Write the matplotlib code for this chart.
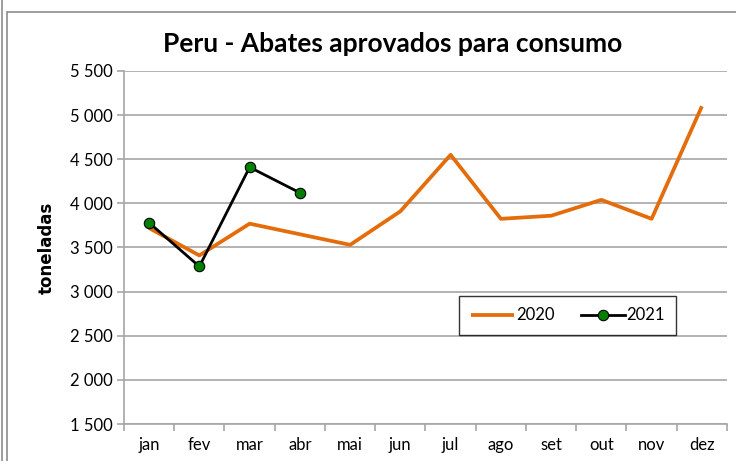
import numpy as np
import matplotlib.pyplot as plt
from matplotlib.patches import Rectangle
from matplotlib.lines import Line2D

months = ["jan", "fev", "mar", "abr", "mai", "jun", "jul", "ago", "set", "out", "nov", "dez"]
vals_2020 = [3720, 3410, 3770, 3650, 3530, 3910, 4550, 3825, 3860, 4040, 3825, 5100]
vals_2021 = [3780, 3285, 4410, 4120]
yticks = [1500, 2000, 2500, 3000, 3500, 4000, 4500, 5000, 5500]

orange = "#E46C0A"
grid_c = "#A6A6A6"

fig = plt.figure(figsize=(7.36, 4.61), dpi=100)
W, H = 736, 461

# outer chart frame (cropped picture)
fig.patches.append(Rectangle((7 / W, -0.1), 1.2, 1 - 12 / H + 0.1, transform=fig.transFigure,
                             fill=False, edgecolor="#8C8C8C", linewidth=1.2))
fig.lines.append(Line2D([1.5 / W, 1.5 / W], [0, 1], transform=fig.transFigure,
                        color="#8C8C8C", linewidth=1.2))

ax = fig.add_axes([124 / W, 1 - 424 / H, (727 - 124) / W, (424 - 71) / H])

x = np.arange(len(months))
ax.plot(x, vals_2020, color=orange, linewidth=2.7, label="2020", solid_capstyle="butt", zorder=3)
ax.plot(x[:len(vals_2021)], vals_2021, color="black", linewidth=2.0, marker="o", markersize=7.5,
        markerfacecolor="#008000", markeredgecolor="black", markeredgewidth=0.8,
        label="2021", zorder=4)

ax.set_xlim(-0.5, len(months) - 0.5)
ax.set_ylim(1500, 5500)
ax.set_yticks(yticks)
ax.set_yticklabels([f"{v:,}".replace(",", " ") for v in yticks],
                   fontsize=12, family="Lato")
ax.yaxis.grid(True, color=grid_c, linewidth=1.2)
ax.set_axisbelow(True)

ax.set_xticks(np.arange(-0.5, len(months), 1.0))
ax.set_xticklabels([])
ax.set_xticks(x, minor=True)
ax.set_xticklabels(months, minor=True, fontsize=12, family="Lato")
ax.tick_params(axis="x", which="minor", length=0, pad=9)
ax.tick_params(axis="x", which="major", length=5, color=grid_c, width=1.2)
ax.tick_params(axis="y", length=5, color=grid_c, width=1.2, pad=3)

for s in ["top", "right"]:
    ax.spines[s].set_visible(False)
for s in ["left", "bottom"]:
    ax.spines[s].set_color(grid_c)
    ax.spines[s].set_linewidth(1.2)

ax.set_ylabel("toneladas", fontsize=12, fontweight="bold", family="DejaVu Sans", labelpad=10)

fig.text(393 / W, 1 - 44 / H, "Peru - Abates aprovados para consumo", ha="center", va="center",
         fontsize=19, fontweight="bold", family="Lato")

leg = ax.legend(ncol=2, loc="center", bbox_to_anchor=((568 - 124) / (727 - 124), (424 - 315.5) / (424 - 71)),
                frameon=True, fancybox=False, edgecolor="black", handlelength=2.6,
                handletextpad=0.1, columnspacing=1.6, borderpad=0.7, borderaxespad=0,
                prop={"family": "Lato", "size": 12})
leg.get_frame().set_linewidth(1.0)

fig.savefig("out.png", dpi=100)
